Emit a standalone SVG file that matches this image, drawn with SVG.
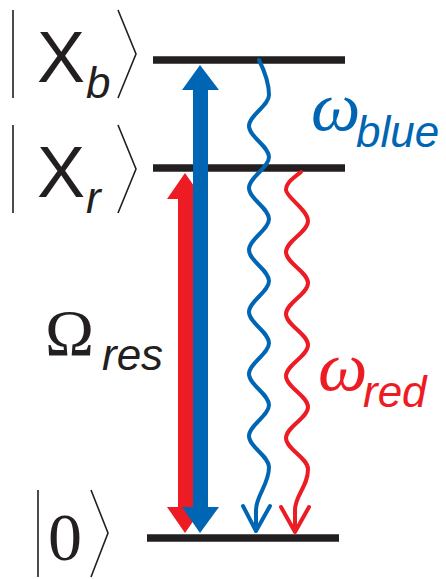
<svg xmlns="http://www.w3.org/2000/svg" width="446" height="579" viewBox="0 0 446 579">
<style>
.lvl{stroke:#231f20;stroke-width:7.5;fill:none}
.ket{stroke:#231f20;stroke-width:1.6;fill:none;stroke-linejoin:miter}
.wave{fill:none;stroke-width:4;stroke-linecap:round;stroke-linejoin:round}
.sans{font-family:"Liberation Sans",Arial,sans-serif}
.serif{font-family:"Liberation Serif","Times New Roman",serif}
.it{font-style:italic}
.blue{fill:#0066b3}
.red{fill:#ed1c24}
.blk{fill:#231f20}
</style>
<rect width="446" height="579" fill="#fff"/>
<g id="level-xb">
<line class="lvl" x1="153" y1="60" x2="345" y2="60"/>
<path class="ket" d="M13,10 V98 M118,10 L136,54 L118,98"/>
<text class="sans blk" x="37" y="82" font-size="72">X</text>
<text class="sans it blk" x="86" y="98" font-size="44">b</text>
</g>
<g id="level-xr">
<line class="lvl" x1="153" y1="168" x2="345" y2="168"/>
<path class="ket" d="M13,125 V213 M118,125 L136,169 L118,213"/>
<text class="sans blk" x="37" y="197" font-size="72">X</text>
<text class="sans it blk" x="86" y="213" font-size="44">r</text>
</g>
<g id="level-0">
<line class="lvl" x1="147" y1="538" x2="339" y2="538"/>
<path class="ket" d="M38,490 V577 M91,490 L108,533 L91,577"/>
<text class="serif blk" x="48" y="560" font-size="68">0</text>
</g>
<g id="connectors">
<polygon id="arrow-red" class="red" points="185,173 203,199 193,199 193,507 203,507 185,533 167,507 178,507 178,199 167,199"/>
<polygon id="arrow-blue" class="blue" points="200,65 219,90 208,90 208,507 219,507 200,533 182,507 193,507 193,90 182,90"/>
<g id="wave-blue" stroke="#0066b3" class="wave">
<path d="M259,60 C265,72 269,84 269,95 C269,106 249,115 249,126 S269,146 269,157 S249,177 249,188 S269,208 269,219 S249,239 249,250 S269,270 269,281 S249,301 249,312 S269,332 269,343 S249,363 249,374 S269,394 269,405 S249,425 249,436 S269,456 269,467 C269,485 256,495 256,510 L256,530"/>
<path d="M243,506 L256,531 L270,506"/>
</g>
<g id="wave-red" stroke="#ed1c24" class="wave">
<path d="M301,172 C293,178 286,183 286,190 S308,210 308,221 S286,241 286,252 S308,272 308,283 S286,303 286,314 S308,334 308,345 S286,365 286,376 S308,396 308,407 S286,427 286,438 S308,458 308,469 C308,487 295,495 295,510 L295,530"/>
<path d="M281,507 L295,532 L309,507"/>
</g>
</g>
<g id="label-omega-res">
<text class="serif blk" x="45" y="355" font-size="66">Ω</text>
<text class="sans it blk" x="102" y="370" font-size="44">res</text>
</g>
<g id="label-omega-blue">
<text class="serif it blue" x="311" y="130" font-size="70">ω</text>
<text class="sans it blue" x="356" y="147" font-size="44">blue</text>
</g>
<g id="label-omega-red">
<text class="serif it red" x="318" y="390" font-size="70">ω</text>
<text class="sans it red" x="363" y="407" font-size="44">red</text>
</g>
</svg>
